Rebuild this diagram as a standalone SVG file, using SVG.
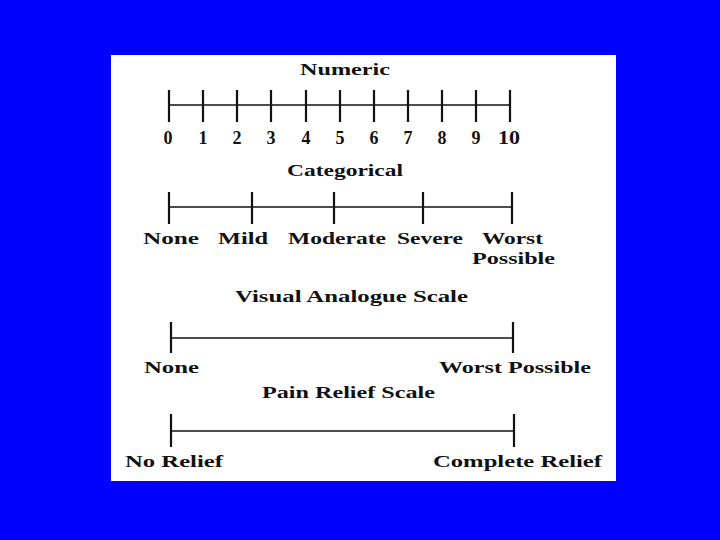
<svg xmlns="http://www.w3.org/2000/svg" width="720" height="540" viewBox="0 0 720 540">
<style>
.t{font-family:"Liberation Serif","DejaVu Serif",serif;font-weight:bold;font-size:17px;fill:#111}
.n{font-family:"Liberation Serif","DejaVu Serif",serif;font-weight:bold;font-size:18px;fill:#111;text-anchor:middle}
.ax{stroke:#111;stroke-width:1.6;fill:none}
.tk{stroke:#111;stroke-width:2.2;fill:none}
</style>
<rect width="720" height="540" fill="#0000fe"/>
<rect x="111" y="55" width="505" height="426" fill="#fff"/>
<g id="numeric">
<text class="t" x="300" y="75" textLength="90" lengthAdjust="spacingAndGlyphs">Numeric</text>
<line class="ax" x1="169" y1="105" x2="510" y2="105"/>
<path class="tk" d="M169,90V122M203,90V122M237,90V122M271,90V122M306,90V122M340,90V122M374,90V122M408,90V122M442,90V122M476,90V122M510,90V122"/>
<text class="n" x="168" y="144">0</text>
<text class="n" x="203" y="144">1</text>
<text class="n" x="237" y="144">2</text>
<text class="n" x="271" y="144">3</text>
<text class="n" x="306" y="144">4</text>
<text class="n" x="340" y="144">5</text>
<text class="n" x="374" y="144">6</text>
<text class="n" x="408" y="144">7</text>
<text class="n" x="442" y="144">8</text>
<text class="n" x="476" y="144">9</text>
<text class="n" x="509" y="144" textLength="22" lengthAdjust="spacingAndGlyphs">10</text>
</g>
<g id="categorical">
<text class="t" x="287" y="176" textLength="116" lengthAdjust="spacingAndGlyphs">Categorical</text>
<line class="ax" x1="169" y1="207" x2="512" y2="207"/>
<path class="tk" d="M169,192V224M252,192V224M334,192V224M423,192V224M512,192V224"/>
<text class="t" x="143" y="244" textLength="56" lengthAdjust="spacingAndGlyphs">None</text>
<text class="t" x="218" y="244" textLength="50" lengthAdjust="spacingAndGlyphs">Mild</text>
<text class="t" x="288" y="244" textLength="98" lengthAdjust="spacingAndGlyphs">Moderate</text>
<text class="t" x="397" y="244" textLength="66" lengthAdjust="spacingAndGlyphs">Severe</text>
<text class="t" x="482" y="244" textLength="61" lengthAdjust="spacingAndGlyphs">Worst</text>
<text class="t" x="472" y="264" textLength="83" lengthAdjust="spacingAndGlyphs">Possible</text>
</g>
<g id="visual-analogue">
<text class="t" x="235" y="302" textLength="233" lengthAdjust="spacingAndGlyphs">Visual Analogue Scale</text>
<line class="ax" x1="171" y1="338" x2="513" y2="338"/>
<path class="tk" d="M171,322V353M513,322V353"/>
<text class="t" x="144" y="373" textLength="55" lengthAdjust="spacingAndGlyphs">None</text>
<text class="t" x="439" y="373" textLength="152" lengthAdjust="spacingAndGlyphs">Worst Possible</text>
</g>
<g id="pain-relief">
<text class="t" x="262" y="398" textLength="173" lengthAdjust="spacingAndGlyphs">Pain Relief Scale</text>
<line class="ax" x1="171" y1="431" x2="514" y2="431"/>
<path class="tk" d="M171,414V447M514,414V447"/>
<text class="t" x="125" y="467" textLength="98" lengthAdjust="spacingAndGlyphs">No Relief</text>
<text class="t" x="433" y="467" textLength="169" lengthAdjust="spacingAndGlyphs">Complete Relief</text>
</g>
</svg>
